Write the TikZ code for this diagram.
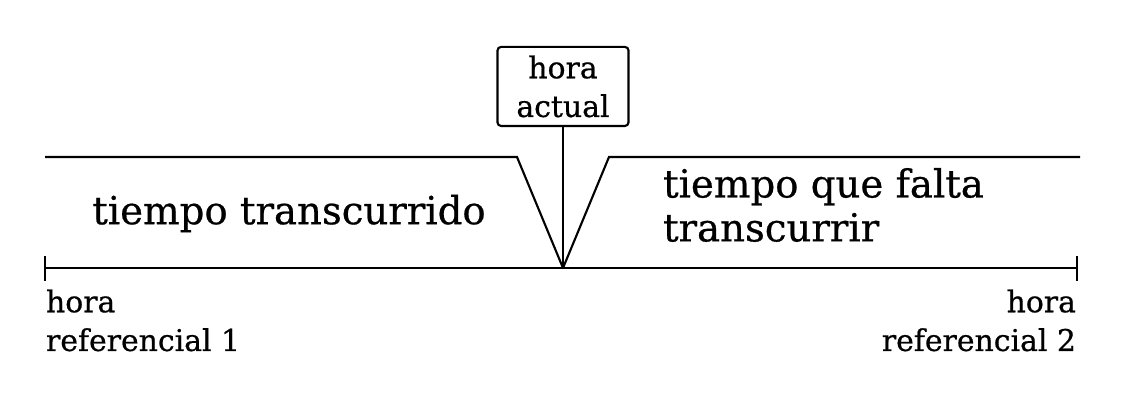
\documentclass[tikz,border=0pt]{standalone}
\usepackage{fontspec}
\setmainfont{DejaVu Serif}[FakeBold=0.6]
\usepackage{tikz}
\usetikzlibrary{positioning}

\begin{document}
\begin{tikzpicture}[line width=1.2pt]
\useasboundingbox (0,0) rectangle (22.72,8.22);
\coordinate (ahora) at (11.26,2.86);
\coordinate (ref1) at (0.9,2.86);
\coordinate (ref2) at (21.54,2.86);
\draw (ref1) -- (ref2);
\draw (ref1) ++(0,-0.25) -- ++(0,0.5);
\draw (ref2) ++(0,-0.25) -- ++(0,0.5);
\draw (0.9,5.08) -- (10.34,5.08) -- (ahora);
\draw (ahora) -- (12.18,5.08) -- (21.6,5.08);
\node[draw,rounded corners=2pt,align=center,font=\fontsize{17}{22}\selectfont,minimum width=2.62cm,minimum height=1.58cm,inner sep=2pt,anchor=south] (actual) at (11.26,5.68) {hora\\actual};
\draw (actual) -- (ahora);
\node[font=\fontsize{22}{26}\selectfont,inner sep=0pt] (pasado) at (5.78,3.95) {tiempo transcurrido};
\node[font=\fontsize{22}{25}\selectfont,align=left,anchor=west,inner sep=0pt] (falta) at (13.24,4.12) {tiempo que falta\\transcurrir};
\node[font=\fontsize{17}{22}\selectfont,align=left,anchor=north west,inner sep=0pt] (h1) at (0.9,2.45) {hora\\referencial 1};
\node[font=\fontsize{17}{22}\selectfont,align=right,anchor=north east,inner sep=0pt] (h2) at (21.54,2.45) {hora\\referencial 2};
\end{tikzpicture}
\end{document}
